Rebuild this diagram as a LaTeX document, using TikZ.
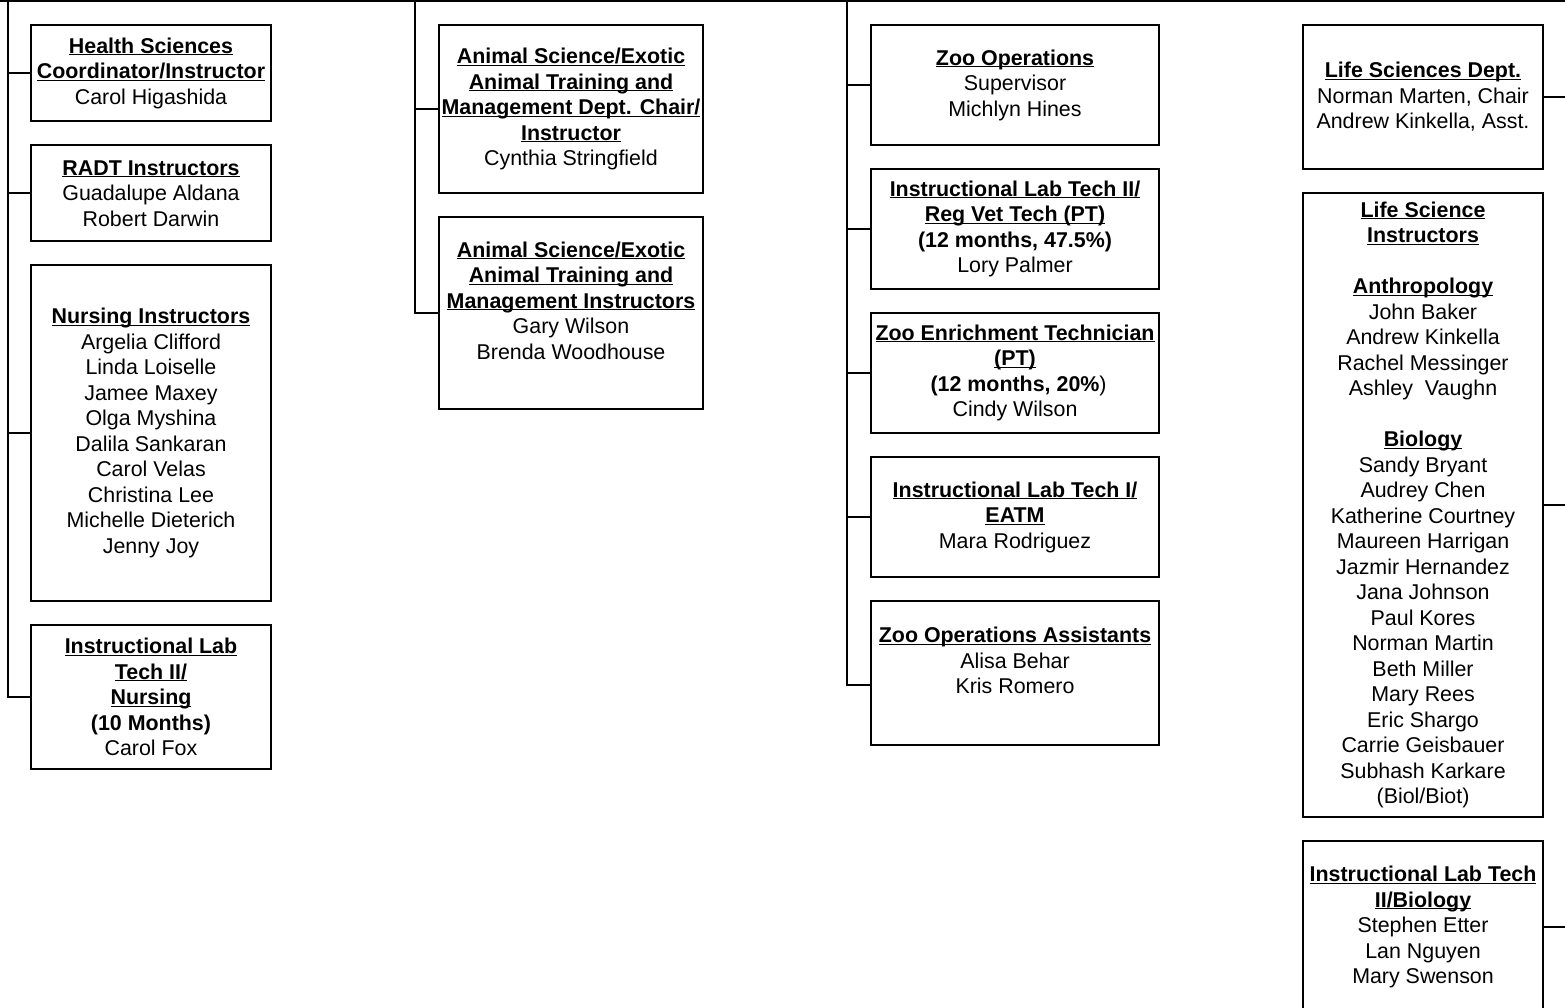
\documentclass[tikz,border=0pt]{standalone}
\usepackage{fontspec}
\setmainfont{Liberation Sans}
\newcommand{\ttl}[1]{\textbf{\underline{\smash{#1}}\vphantom{Hl}}}

\begin{document}
\begin{tikzpicture}[x=1pt,y=-1pt,
    box/.style={draw, line width=1.8pt, inner sep=0pt, align=center,
        font=\fontsize{21.4pt}{25.5pt}\selectfont},
    colA/.style={box, minimum width=240pt},
    colB/.style={box, minimum width=264pt},
    colC/.style={box, minimum width=288pt},
    bus/.style={line width=1.8pt}]

    \useasboundingbox (0,0) rectangle (1565,1008);

    % these are the bus points
    \coordinate (topL) at (0,1);
    \coordinate (topR) at (1565,1);
    \coordinate (busA) at (8,1);
    \coordinate (busB) at (415,1);
    \coordinate (busC) at (847,1);
    \coordinate (busD) at (1565,1);

    % first column
    \node[colA, minimum height=96pt] (hsc) at (151,73)
        {\ttl{Health Sciences}\\ \ttl{Coordinator/Instructor}\\ Carol Higashida};
    \node[colA, minimum height=96pt] (radt) at (151,193)
        {\ttl{RADT Instructors}\\ Guadalupe Aldana\\ Robert Darwin};
    \node[colA, minimum height=336pt] (nurs) at (151,433)
        {\ttl{Nursing Instructors}\\ Argelia Clifford\\ Linda Loiselle\\ Jamee Maxey\\
         Olga Myshina\\ Dalila Sankaran\\ Carol Velas\\ Christina Lee\\
         Michelle Dieterich\\ Jenny Joy};
    \node[colA, minimum height=144pt] (ltnurs) at (151,697)
        {\ttl{Instructional Lab}\\ \ttl{Tech II/}\\ \ttl{Nursing}\\
         \textbf{(10 Months)}\\ Carol Fox};

    % second column
    \node[colB, minimum height=168pt] (eatmchair) at (571,109)
        {\ttl{Animal Science/Exotic}\\ \ttl{Animal Training and}\\
         \ttl{Management Dept. Chair/}\\ \ttl{Instructor}\\ Cynthia Stringfield};
    \node[colB, minimum height=192pt] (eatminst) at (571,313)
        {\ttl{Animal Science/Exotic}\\ \ttl{Animal Training and}\\
         \ttl{Management Instructors}\\ Gary Wilson\\ Brenda Woodhouse\\ \mbox{}};

    % third column
    \node[colC, minimum height=120pt] (zooops) at (1015,85)
        {\ttl{Zoo Operations}\\ Supervisor\\ Michlyn Hines};
    \node[colC, minimum height=120pt] (vettech) at (1015,229)
        {\ttl{Instructional Lab Tech II/}\\ \ttl{Reg Vet Tech (PT)}\\
         \textbf{(12 months, 47.5\%)}\\ Lory Palmer};
    \node[colC, minimum height=120pt] (enrich) at (1015,373)
        {\ttl{Zoo Enrichment Technician}\\ \ttl{(PT)}\\
         \textbf{(12 months, 20\%}\rlap{)}\\ Cindy Wilson};
    \node[colC, minimum height=120pt] (lteatm) at (1015,517)
        {\ttl{Instructional Lab Tech I/}\\ \ttl{EATM}\\ Mara Rodriguez};
    \node[colC, minimum height=144pt] (zooasst) at (1015,673)
        {\ttl{Zoo Operations Assistants}\\ Alisa Behar\\ Kris Romero\\ \mbox{}};

    % fourth column
    \node[colA, minimum height=144pt] (lifedept) at (1423,97)
        {\ttl{Life Sciences Dept.}\\ Norman Marten, Chair\\ Andrew Kinkella, Asst.};
    \node[colA, minimum height=624pt] (lifeinst) at (1423,505)
        {\ttl{Life Science}\\ \ttl{Instructors}\\[25.5pt]
         \ttl{Anthropology}\\ John Baker\\ Andrew Kinkella\\ Rachel Messinger\\
         Ashley\ \ Vaughn\\[25.5pt]
         \ttl{Biology}\\ Sandy Bryant\\ Audrey Chen\\ Katherine Courtney\\
         Maureen Harrigan\\ Jazmir Hernandez\\ Jana Johnson\\ Paul Kores\\
         Norman Martin\\ Beth Miller\\ Mary Rees\\ Eric Shargo\\
         Carrie Geisbauer\\ Subhash Karkare\\ (Biol/Biot)};
    \node[colA, minimum height=172pt] (ltbio) at (1423,927)
        {\ttl{Instructional Lab Tech}\\ \ttl{II/Biology}\\ Stephen Etter\\
         Lan Nguyen\\ Mary Swenson};

    % top line
    \draw[bus] (topL) -- (topR);

    % first column lines
    \draw[bus] (busA) |- (ltnurs.west);
    \draw[bus] (hsc.west) -- (hsc.west -| busA);
    \draw[bus] (radt.west) -- (radt.west -| busA);
    \draw[bus] (nurs.west) -- (nurs.west -| busA);

    % second column lines
    \draw[bus] (busB) |- (eatminst.west);
    \draw[bus] (eatmchair.west) -- (eatmchair.west -| busB);

    % third column lines
    \draw[bus] (busC) |- ([yshift=-12pt]zooasst.west);
    \draw[bus] (zooops.west) -- (zooops.west -| busC);
    \draw[bus] (vettech.west) -- (vettech.west -| busC);
    \draw[bus] (enrich.west) -- (enrich.west -| busC);
    \draw[bus] (lteatm.west) -- (lteatm.west -| busC);

    % fourth column lines
    \draw[bus] (lifedept.east) -- (lifedept.east -| busD);
    \draw[bus] (lifeinst.east) -- (lifeinst.east -| busD);
    \draw[bus] (ltbio.east) -- (ltbio.east -| busD);

\end{tikzpicture}
\end{document}
